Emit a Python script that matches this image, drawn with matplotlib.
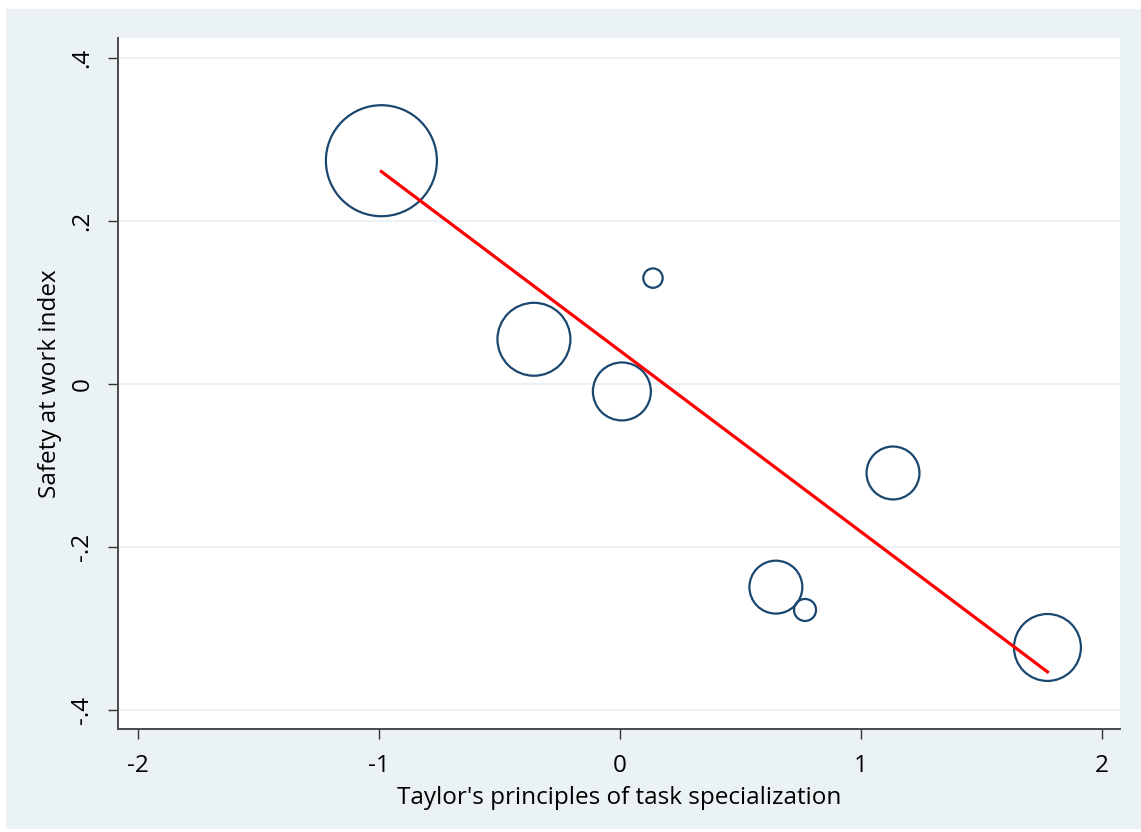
import matplotlib
matplotlib.use("Agg")
import matplotlib.pyplot as plt
from matplotlib.patches import Rectangle
import numpy as np

# group means: task specialization score vs safety index, weighted by group size
x_spec = [-0.99, 0.137, -0.357, 0.008, 1.133, 0.647, 0.768, 1.774]
y_safety = [0.274, 0.130, 0.055, -0.009, -0.109, -0.249, -0.277, -0.323]
weight = [3080, 94, 1330, 840, 700, 700, 121, 1120]

# fitted line (weighted)
fit_intercept = 0.0409
fit_slope = -0.222

xticks = [-2, -1, 0, 1, 2]
yticks = [-0.4, -0.2, 0.0, 0.2, 0.4]
ytick_labels = ["-.4", "-.2", "0", ".2", ".4"]

plt.rcParams["font.family"] = ["Open Sans", "DejaVu Sans"]

W, H = 1141, 832
fig = plt.figure(figsize=(W / 100, H / 100), dpi=100)
fig.patch.set_facecolor("white")
# Stata-style light blue graph region
fig.patches.append(Rectangle((6 / W, 3 / H), (W - 6) / W, (H - 12) / H,
                             transform=fig.transFigure, facecolor="#EAF2F3",
                             edgecolor="none", zorder=-10))

ax = fig.add_axes([118 / W, 1 - 729 / H, (1120 - 118) / W, (729 - 38) / H])
ax.set_zorder(1)
ax.set_facecolor("white")

# marker area proportional to weight
sizes = [2.0736 * w for w in weight]
ax.scatter(x_spec, y_safety, s=sizes, facecolors="none", edgecolors="#1A476F",
           linewidths=1.6, zorder=3)

xs = np.array([min(x_spec), max(x_spec)])
ax.plot(xs, fit_intercept + fit_slope * xs, color="red", lw=2.3, zorder=4)

ax.set_xlim(-2.083, 2.075)
ax.set_ylim(-0.423, 0.4245)
ax.set_xticks(xticks)
ax.set_xticklabels([str(t) for t in xticks])
ax.set_yticks(yticks)
ax.set_yticklabels(ytick_labels, rotation=90, va="center")

ax.grid(axis="y", color="#EAF2F3", lw=1.5, zorder=0)
ax.set_axisbelow(True)
for s in ["top", "right"]:
    ax.spines[s].set_visible(False)
for s in ["left", "bottom"]:
    ax.spines[s].set_color("#4a4a4a")
    ax.spines[s].set_linewidth(1.4)

ax.tick_params(axis="both", direction="out", length=7, width=1.0,
               color="#333333", labelsize=17.5, labelcolor="black")
ax.tick_params(axis="x", pad=11)
ax.tick_params(axis="y", pad=10)

ax.set_xlabel("Taylor's principles of task specialization", fontsize=17.5, labelpad=6)
ax.set_ylabel("Safety at work index", fontsize=17.5, labelpad=6)

fig.savefig("out.png", dpi=100, facecolor=fig.get_facecolor())
